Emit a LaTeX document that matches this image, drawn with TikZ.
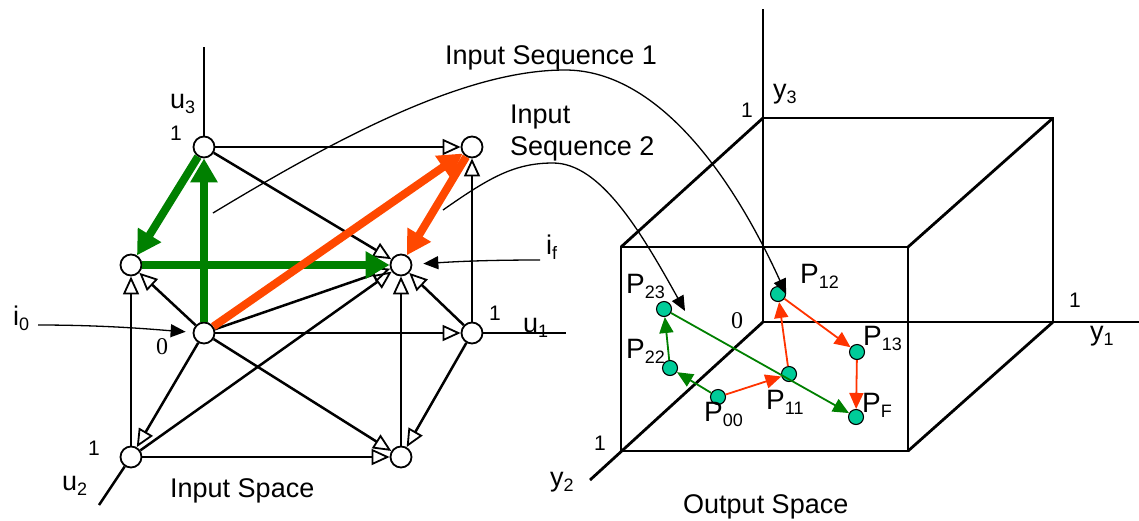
\documentclass[tikz,border=0pt]{standalone}
\usepackage{fontspec}
\setmainfont{Liberation Sans}
\newfontfamily\zerofont{Liberation Serif}
\usetikzlibrary{arrows.meta}
\definecolor{seqgreen}{RGB}{0,128,0}
\definecolor{seqorange}{RGB}{255,72,0}
\definecolor{seqred}{RGB}{255,51,0}
\definecolor{ptteal}{RGB}{0,204,153}
\newcommand{\lowsub}[1]{\raisebox{-5pt}{\fontsize{18}{18}\selectfont #1}}

\begin{document}
\begin{tikzpicture}[x=1pt, y=-1pt,
    font=\fontsize{27}{32}\selectfont,
    vtx/.style={circle, draw, line width=1.8pt, minimum size=21pt, inner sep=0pt},
    trans/.style={line width=2.5pt, -{Triangle[open, length=18pt, width=16pt, line width=1.8pt]}},
    axisline/.style={line width=2.5pt},
    seqg/.style={line width=8pt, seqgreen, -{Triangle[length=24pt, width=26pt]}},
    seqo/.style={line width=8pt, seqorange, -{Triangle[length=24pt, width=26pt]}},
    cubeline/.style={line width=2.8pt},
    pointer/.style={line width=1.3pt, -{Triangle[length=15pt, width=13pt]}},
    pt/.style={circle, draw, fill=ptteal, line width=1.1pt, minimum size=15pt, inner sep=0pt},
    redarr/.style={seqred, line width=1.8pt, -{Triangle[length=16pt, width=14pt]}},
    grnarr/.style={seqgreen, line width=1.8pt, -{Triangle[length=16pt, width=14pt]}},
    lbl/.style={anchor=base west, inner sep=0pt},
    num/.style={anchor=base west, inner sep=0pt, font=\fontsize{21}{24}\selectfont},
    plbl/.style={anchor=base west, inner sep=0pt, font=\fontsize{28}{30}\selectfont}
]
\useasboundingbox (0,0) rectangle (1139,520);

% input space cube
\node[vtx] (n000) at (204,333) {};
\node[vtx] (n001) at (204,147) {};
\node[vtx] (n100) at (472,333) {};
\node[vtx] (n101) at (472,147) {};
\node[vtx] (n010) at (131,457) {};
\node[vtx] (n011) at (131,265) {};
\node[vtx] (n110) at (401,457) {};
\node[vtx] (n111) at (401,265) {};

\coordinate (u3end) at (204,47);
\coordinate (u1end) at (566,333);
\coordinate (u2end) at (99,505);
\draw[axisline] (n001) -- (u3end);
\draw[axisline] (n100) -- (u1end);
\draw[axisline] (n010) -- (u2end);

\draw[trans] (n000) -- (n100);
\draw[trans] (n000) -- (n010);
\draw[trans] (n000) -- (n011);
\draw[trans] (n000) -- (n110);
\draw[trans] (n000) -- (n111);
\draw[trans] (n001) -- (n101);
\draw[trans] (n001) -- (n111);
\draw[trans] (n010) -- (n011);
\draw[trans] (n010) -- (n110);
\draw[trans] (n010) -- (n111);
\draw[trans] (n100) -- (n101);
\draw[trans] (n100) -- (n110);
\draw[trans] (n100) -- (n111);
\draw[trans] (n110) -- (n111);

% sequences through the input cube
\draw[seqg] (n000) -- (n001);
\draw[seqg] (n001) -- (n011);
\draw[seqg] (n011) -- (n111);
\draw[seqo] (n000) -- (n101);
\draw[seqo] (n101) -- (n111);

\node[lbl] (u3lbl) at (170,108) {u\lowsub{3}};
\node[num] (u3one) at (170,140) {1};
\node[lbl] (u1lbl) at (523,332) {u\lowsub{1}};
\node[num] (u1one) at (489,320) {1};
\node[lbl] (u2lbl) at (62,490) {u\lowsub{2}};
\node[num] (u2one) at (88,455) {1};
\node[num, font=\zerofont\fontsize{24}{24}\selectfont] (zero) at (156,354) {0};
\node[lbl] (i0lbl) at (13,325) {i\lowsub{0}};
\node[lbl] (iflbl) at (546,254) {i\lowsub{f}};
\node[lbl] (inspace) at (170,497) {Input Space};

\coordinate (i0start) at (38,325);
\draw[pointer, shorten >=7pt] (i0start) .. controls (110,325) and (160,330) .. (n000);
\coordinate (ifstart) at (540,260);
\draw[pointer, shorten >=11pt] (ifstart) .. controls (480,260) and (450,262) .. (n111);

% output space cube
\coordinate (o) at (763,322);
\coordinate (y3end) at (763,9);
\coordinate (y1end) at (1139,322);
\coordinate (y2end) at (590,480);
\coordinate (btl) at (763,118);
\coordinate (btr) at (1053,118);
\coordinate (bbr) at (1053,322);
\coordinate (ftl) at (621,247);
\coordinate (ftr) at (908,247);
\coordinate (fbr) at (908,451);
\coordinate (fbl) at (621,451);
\draw[cubeline] (y3end) -- (o) -- (y1end);
\draw[cubeline] (o) -- (y2end);
\draw[cubeline] (btl) -- (btr) -- (bbr);
\draw[cubeline] (ftl) -- (ftr) -- (fbr) -- (fbl) -- cycle;
\draw[cubeline] (ftl) -- (btl);
\draw[cubeline] (ftr) -- (btr);
\draw[cubeline] (fbr) -- (bbr);

\node[num] (y3one) at (741,117) {1};
\node[lbl] (y3lbl) at (773,98) {y\lowsub{3}};
\node[num] (y1one) at (1069,307) {1};
\node[lbl] (y1lbl) at (1090,340) {y\lowsub{1}};
\node[num] (y2one) at (594,450) {1};
\node[lbl] (y2lbl) at (550,486) {y\lowsub{2}};
\node[num, font=\zerofont\fontsize{24}{24}\selectfont] (ozero) at (731,328) {0};
\node[lbl] (outspace) at (683,513) {Output Space};

% output points
\node[pt] (p23) at (664,309) {};
\node[pt] (p22) at (670,368) {};
\node[pt] (p00) at (718,397) {};
\node[pt] (p11) at (789,374) {};
\node[pt] (p12) at (778,294) {};
\node[pt] (p13) at (857,352) {};
\node[pt] (pf) at (856,417) {};

\node[plbl] at (626,293) {P\lowsub{23}};
\node[plbl] at (626,358) {P\lowsub{22}};
\node[plbl] at (704,421) {P\lowsub{00}};
\node[plbl] at (766,409) {P\lowsub{11}};
\node[plbl] at (800,283) {P\lowsub{12}};
\node[plbl] at (863,345) {P\lowsub{13}};
\node[plbl] at (862,412) {P\lowsub{F}};

\draw[redarr] (p00) -- (p11);
\draw[redarr] (p11) -- (p12);
\draw[redarr] (p12) -- (p13);
\draw[redarr] (p13) -- (pf);
\draw[grnarr] (p00) -- (p22);
\draw[grnarr] (p22) -- (p23);
\draw[grnarr] (p23) -- (pf);

% input sequence labels and mapping curves
\node[lbl] (seq1lbl) at (445,64) {Input Sequence 1};
\node[anchor=base west, inner sep=0pt, align=left] (seq2lbl) at (510,155) {Input\\Sequence 2};
\coordinate (s1start) at (213,213);
\coordinate (s2start) at (443,210);
\coordinate (s2tip) at (685,311);
\draw[pointer] (s1start) .. controls (350,130) and (470,70) .. (565,70)
    .. controls (650,70) and (725,160) .. (p12.east);
\draw[pointer] (s2start) .. controls (490,177) and (515,163) .. (553,163)
    .. controls (600,163) and (640,230) .. (s2tip);
\end{tikzpicture}
\end{document}
